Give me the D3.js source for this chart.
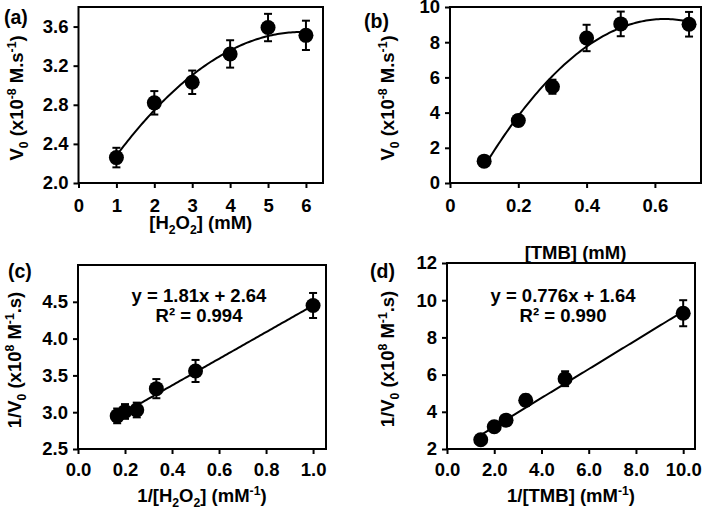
<!DOCTYPE html>
<html><head><meta charset="utf-8">
<script src="https://cdn.jsdelivr.net/npm/d3@7"></script>
<style>
body{margin:0;background:#fff}
text{font-family:"Liberation Sans",Arial,sans-serif;font-weight:bold;fill:#000}
</style>
</head><body>
<svg id="chart" width="705" height="511"></svg>
<script>
// ---- data ----
const h2o2Conc = [1, 2, 3, 4, 5, 6];
const h2o2Rate = [2.26, 2.82, 3.03, 3.32, 3.59, 3.51];
const h2o2Err  = [0.10, 0.12, 0.12, 0.14, 0.14, 0.15];

const tmbConc = [0.1, 0.2, 0.3, 0.4, 0.5, 0.7];
const tmbRate = [1.24, 3.55, 5.47, 8.24, 9.04, 9.02];
const tmbErr  = [0.2, 0.3, 0.4, 0.75, 0.7, 0.7];

const invH2o2      = [1/6, 1/5, 1/4, 1/3, 1/2, 1];
const invRateH2o2  = [2.95, 3.01, 3.03, 3.32, 3.56, 4.45];
const invErrH2o2   = [0.10, 0.10, 0.10, 0.13, 0.15, 0.17];

const invTmb      = [1/0.7, 2, 2.5, 1/0.3, 5, 10];
const invRateTmb  = [2.5, 3.2, 3.55, 4.62, 5.78, 9.3];
const invErrTmb   = [0.2, 0.2, 0.25, 0.3, 0.4, 0.7];

const fitLineC = [1.81, 2.64];   // slope, intercept
const fitLineD = [0.776, 1.64];
const eqTextC = ["y = 1.81x + 2.64", "R² = 0.994"];
const eqTextD = ["y = 0.776x + 1.64", "R² = 0.990"];

const ticksAx = [0, 1, 2, 3, 4, 5, 6];
const ticksAy = [2.0, 2.4, 2.8, 3.2, 3.6];
const ticksBx = [0, 0.2, 0.4, 0.6];
const ticksBy = [0, 2, 4, 6, 8, 10];
const ticksCx = [0, 0.2, 0.4, 0.6, 0.8, 1.0];
const ticksCy = [2.5, 3.0, 3.5, 4.0, 4.5];
const ticksDx = [0, 2, 4, 6, 8, 10];
const ticksDy = [2, 4, 6, 8, 10, 12];

// ---- helpers ----
const svg = d3.select("#chart");
const FS = 18.5;

function quadFit(xs, ys) {
  const S = k => d3.sum(xs, x => Math.pow(x, k));
  const T = k => d3.sum(xs.map((x, i) => ys[i] * Math.pow(x, k)));
  const M = [[S(0), S(1), S(2), T(0)], [S(1), S(2), S(3), T(1)], [S(2), S(3), S(4), T(2)]];
  for (let i = 0; i < 3; i++) {
    let p = i;
    for (let r = i + 1; r < 3; r++) if (Math.abs(M[r][i]) > Math.abs(M[p][i])) p = r;
    [M[i], M[p]] = [M[p], M[i]];
    for (let r = 0; r < 3; r++) {
      if (r === i) continue;
      const f = M[r][i] / M[i][i];
      for (let c = i; c < 4; c++) M[r][c] -= f * M[i][c];
    }
  }
  const a = M[0][3] / M[0][0], b = M[1][3] / M[1][1], c = M[2][3] / M[2][2];
  return x => a + b * x + c * x * x;
}

function richText(sel, parts, size) {
  let shift = 0;
  parts.forEach(([t, mode]) => {
    let target = mode === "sub" ? 4.5 : mode === "sup" ? -7 : 0;
    const ts = sel.append("tspan").text(t).attr("dy", target - shift);
    if (mode) ts.attr("font-size", size * 0.66);
    shift = target;
  });
  if (shift !== 0) sel.append("tspan").text("\u200B").attr("dy", -shift);
}

function panel(cfg) {
  const {box} = cfg;
  const x = d3.scaleLinear().domain(cfg.xDomain).range([box.l, box.r]);
  const y = d3.scaleLinear().domain(cfg.yDomain).range([box.b, box.t]);
  const g = svg.append("g");

  const ax = g.append("g").attr("transform", `translate(0,${box.b})`)
    .call(d3.axisBottom(x).tickValues(cfg.xTicks).tickFormat(cfg.xFmt).tickSize(5).tickPadding(cfg.xPad));
  const ay = g.append("g").attr("transform", `translate(${box.l},0)`)
    .call(d3.axisLeft(y).tickValues(cfg.yTicks).tickFormat(cfg.yFmt).tickSize(5).tickPadding(5));
  [ax, ay].forEach(a => {
    a.select(".domain").remove();
    a.selectAll("line").attr("stroke", "#000").attr("stroke-width", 2);
    a.selectAll("text").attr("font-size", FS).attr("font-family", '"Liberation Sans",Arial,sans-serif').attr("font-weight", "bold").attr("fill", "#000");
  });

  g.append("rect").attr("x", box.l).attr("y", box.t)
    .attr("width", box.r - box.l).attr("height", box.b - box.t)
    .attr("fill", "none").attr("stroke", "#000").attr("stroke-width", 2);

  let fn;
  if (cfg.fit === "quad") fn = quadFit(cfg.xs, cfg.ys);
  else fn = xx => cfg.fit[0] * xx + cfg.fit[1];
  const x0 = d3.min(cfg.xs), x1 = d3.max(cfg.xs);
  const samples = d3.range(0, 101).map(i => x0 + (x1 - x0) * i / 100);
  g.append("path").attr("d", d3.line().x(d => x(d)).y(d => y(fn(d)))(samples))
    .attr("fill", "none").attr("stroke", "#000").attr("stroke-width", 2);

  cfg.xs.forEach((xv, i) => {
    const yv = cfg.ys[i], e = cfg.errs[i];
    const px = x(xv);
    g.append("line").attr("x1", px).attr("x2", px).attr("y1", y(yv - e)).attr("y2", y(yv + e))
      .attr("stroke", "#000").attr("stroke-width", 2);
    [yv - e, yv + e].forEach(v => g.append("line").attr("x1", px - 4).attr("x2", px + 4)
      .attr("y1", y(v)).attr("y2", y(v)).attr("stroke", "#000").attr("stroke-width", 2));
  });
  g.selectAll("circle.pt").data(cfg.xs).join("circle").attr("class", "pt")
    .attr("cx", d => x(d)).attr("cy", (d, i) => y(cfg.ys[i])).attr("r", 7.5).attr("fill", "#000");

  const xt = g.append("text").attr("x", (box.l + box.r) / 2).attr("y", cfg.xTitleY)
    .attr("text-anchor", "middle").attr("font-size", FS);
  richText(xt, cfg.xTitle, FS);
  const yt = g.append("text").attr("transform", `translate(${cfg.yTitleX},${(box.t + box.b) / 2 + 3}) rotate(-90)`)
    .attr("text-anchor", "middle").attr("font-size", FS);
  richText(yt, cfg.yTitle, FS);

  g.append("text").attr("x", cfg.labelPos[0]).attr("y", cfg.labelPos[1]).attr("font-size", 19.5).text(cfg.label);

  if (cfg.eq) {
    cfg.eq.forEach((t, i) => g.append("text").attr("x", cfg.eqPos[0]).attr("y", cfg.eqPos[1] + i * 19.5)
      .attr("text-anchor", "middle").attr("font-size", FS).text(t));
  }
}

const f1 = d3.format(".1f"), f0 = d3.format("d"), fg = d => d === 0 ? "0" : d3.format(".1f")(d);

panel({
  box: {l: 78.5, r: 323, t: 7, b: 183}, xDomain: [0, 6.45], yDomain: [2.0, 3.8],
  xTicks: ticksAx, yTicks: ticksAy, xFmt: f0, yFmt: f1, xPad: 11,
  xs: h2o2Conc, ys: h2o2Rate, errs: h2o2Err, fit: "quad",
  xTitle: [["[H", ""], ["2", "sub"], ["O", ""], ["2", "sub"], ["] (mM)", ""]], xTitleY: 229,
  yTitle: [["V", ""], ["0", "sub"], [" (x10", ""], ["-8", "sup"], [" M.s", ""], ["-1", "sup"], [")", ""]], yTitleX: 23,
  label: "(a)", labelPos: [4, 24]
});
panel({
  box: {l: 450, r: 701, t: 7, b: 183}, xDomain: [0, 0.735], yDomain: [0, 10],
  xTicks: ticksBx, yTicks: ticksBy, xFmt: fg, yFmt: f0, xPad: 11,
  xs: tmbConc, ys: tmbRate, errs: tmbErr, fit: "quad",
  xTitle: [["[TMB] (mM)", ""]], xTitleY: 259,
  yTitle: [["V", ""], ["0", "sub"], [" (x10", ""], ["-8", "sup"], [" M.s", ""], ["-1", "sup"], [")", ""]], yTitleX: 394,
  label: "(b)", labelPos: [364, 28]
});
panel({
  box: {l: 78, r: 326, t: 265, b: 449}, xDomain: [0, 1.055], yDomain: [2.5, 5.0],
  xTicks: ticksCx, yTicks: ticksCy, xFmt: f1, yFmt: f1, xPad: 9,
  xs: invH2o2, ys: invRateH2o2, errs: invErrH2o2, fit: fitLineC,
  xTitle: [["1/[H", ""], ["2", "sub"], ["O", ""], ["2", "sub"], ["] (mM", ""], ["-1", "sup"], [")", ""]], xTitleY: 502,
  yTitle: [["1/V", ""], ["0", "sub"], [" (x10", ""], ["8", "sup"], [" M", ""], ["-1", "sup"], [".s)", ""]], yTitleX: 21,
  label: "(c)", labelPos: [8, 278],
  eq: eqTextC, eqPos: [199, 302]
});
panel({
  box: {l: 447, r: 695, t: 263, b: 449}, xDomain: [0, 10.5], yDomain: [2, 12],
  xTicks: ticksDx, yTicks: ticksDy, xFmt: f1, yFmt: f0, xPad: 9,
  xs: invTmb, ys: invRateTmb, errs: invErrTmb, fit: fitLineD,
  xTitle: [["1/[TMB] (mM", ""], ["-1", "sup"], [")", ""]], xTitleY: 502,
  yTitle: [["1/V", ""], ["0", "sub"], [" (x10", ""], ["8", "sup"], ["  M", ""], ["-1", "sup"], [".s)", ""]], yTitleX: 394,
  label: "(d)", labelPos: [370, 278],
  eq: eqTextD, eqPos: [563, 302]
});
</script>
</body></html>
